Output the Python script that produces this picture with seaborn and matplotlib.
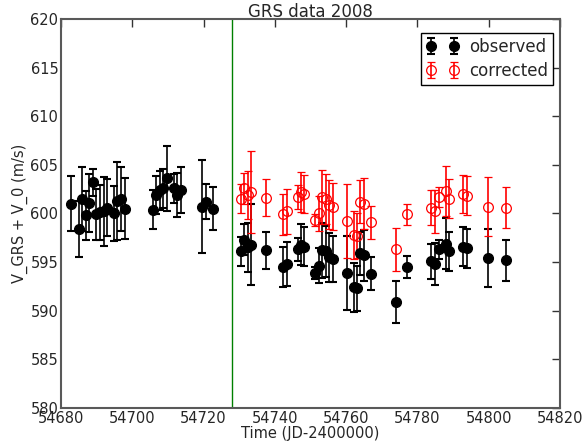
import numpy as np
import pandas as pd
import seaborn as sns
import matplotlib
matplotlib.use("Agg")
import matplotlib.pyplot as plt

# --- data ---
time = [54682.9, 54685.0, 54686.0, 54686.9, 54687.9, 54688.9, 54689.9, 54690.9,
        54691.9, 54692.8, 54694.8, 54695.8, 54696.8, 54697.9,
        54705.8, 54706.7, 54707.7, 54708.7, 54709.7, 54711.6, 54712.6, 54713.7,
        54719.6, 54720.6, 54722.6]
v_obs = [601.0, 598.4, 601.5, 599.8, 601.1, 603.2, 599.9, 600.1,
         600.2, 600.6, 600.0, 601.3, 601.5, 600.5,
         600.4, 601.9, 602.4, 602.6, 603.6, 602.6, 601.9, 602.4,
         600.7, 601.2, 600.5]
e_obs = [2.8, 2.9, 3.3, 2.5, 3.0, 1.4, 2.6, 2.8,
         3.5, 2.9, 2.8, 4.0, 3.3, 3.1,
         2.0, 2.0, 2.0, 2.0, 3.3, 1.5, 2.3, 2.4,
         4.8, 1.8, 2.2]

time_c = [54730.4, 54731.4, 54732.4, 54733.4, 54737.4, 54742.4, 54743.4, 54746.4,
          54747.3, 54748.2, 54751.2, 54752.3, 54753.3, 54754.3, 54755.3, 54756.2,
          54760.2, 54762.1, 54763.1, 54764.0, 54765.0, 54767.1, 54774.0, 54777.0,
          54783.9, 54784.9, 54786.0, 54787.9, 54789.0, 54792.8, 54793.8, 54799.9,
          54804.8]
v_obs2 = [596.1, 597.3, 596.5, 596.8, 596.2, 594.5, 594.8, 596.3,
          596.8, 596.6, 593.9, 594.6, 596.2, 596.1, 595.5, 595.3,
          593.9, 592.4, 592.3, 595.9, 595.7, 593.8, 590.9, 594.5,
          595.1, 594.8, 596.3, 596.9, 596.1, 596.6, 596.4, 595.4,
          595.2]
v_corr = [601.5, 602.6, 601.9, 602.2, 601.6, 599.9, 600.2, 601.7,
          602.2, 602.0, 599.3, 600.0, 601.7, 601.5, 600.9, 600.7,
          599.2, 597.8, 597.7, 601.2, 601.0, 599.1, 596.3, 599.9,
          600.6, 600.2, 601.7, 602.3, 601.5, 602.0, 601.8, 600.7,
          600.6]
e_corr = [1.5, 1.6, 2.5, 4.2, 1.9, 2.1, 2.3, 1.2,
          2.1, 2.0, 0.6, 1.8, 2.8, 2.6, 2.5, 2.4,
          3.8, 2.5, 2.3, 2.2, 2.6, 1.7, 2.2, 1.1,
          1.8, 2.2, 1.0, 2.6, 2.0, 2.0, 2.0, 3.0,
          2.1]

split_time = 54728.0
x_ticks = [54680, 54700, 54720, 54740, 54760, 54780, 54800, 54820]
y_ticks = [580, 585, 590, 595, 600, 605, 610, 615, 620]

sns.set_theme(style="white")
plt.rcParams['font.family'] = ['DejaVu Sans']

fig = plt.figure(figsize=(5.82, 4.41), dpi=100)
ax = fig.add_axes([0.105, 0.075, 0.857, 0.882])

all_t = time + time_c
all_v = v_obs + v_obs2
all_e = e_obs + e_corr

ax.errorbar(all_t, all_v, yerr=all_e, fmt='o', color='black', ecolor='black',
            ms=7, elinewidth=1.2, capsize=3, capthick=1.5, label='observed', zorder=3)
ax.errorbar(time_c, v_corr, yerr=e_corr, fmt='o', color='red', ecolor='red',
            mfc='none', mec='red', ms=7, mew=0.9, elinewidth=1.2, capsize=3,
            capthick=1.5, label='corrected', zorder=3)
ax.axvline(split_time, color='green', lw=1)

ax.set_xlim(54680, 54820)
ax.set_ylim(580, 620)
ax.set_xticks(x_ticks)
ax.set_yticks(y_ticks)
ax.set_title('GRS data 2008', fontsize=12, pad=1.5)
ax.set_xlabel('Time (JD-2400000)', fontsize=10.5, labelpad=0)
ax.set_ylabel('V_GRS + V_0 (m/s)', fontsize=10.5, labelpad=2)
ax.tick_params(direction='in', top=True, right=True, length=6, width=1,
               labelsize=10.5, pad=2, color='0.2')
for s in ax.spines.values():
    s.set_color('0.35')
    s.set_linewidth(1.5)

leg = ax.legend(loc='upper right', bbox_to_anchor=(0.986, 0.964), numpoints=2,
                fontsize=12, fancybox=False, framealpha=1, edgecolor='black',
                borderaxespad=0, handletextpad=0.6, borderpad=0.3,
                labelspacing=0.35)
leg.get_frame().set_linewidth(1)

fig.savefig('out.png', dpi=100)
